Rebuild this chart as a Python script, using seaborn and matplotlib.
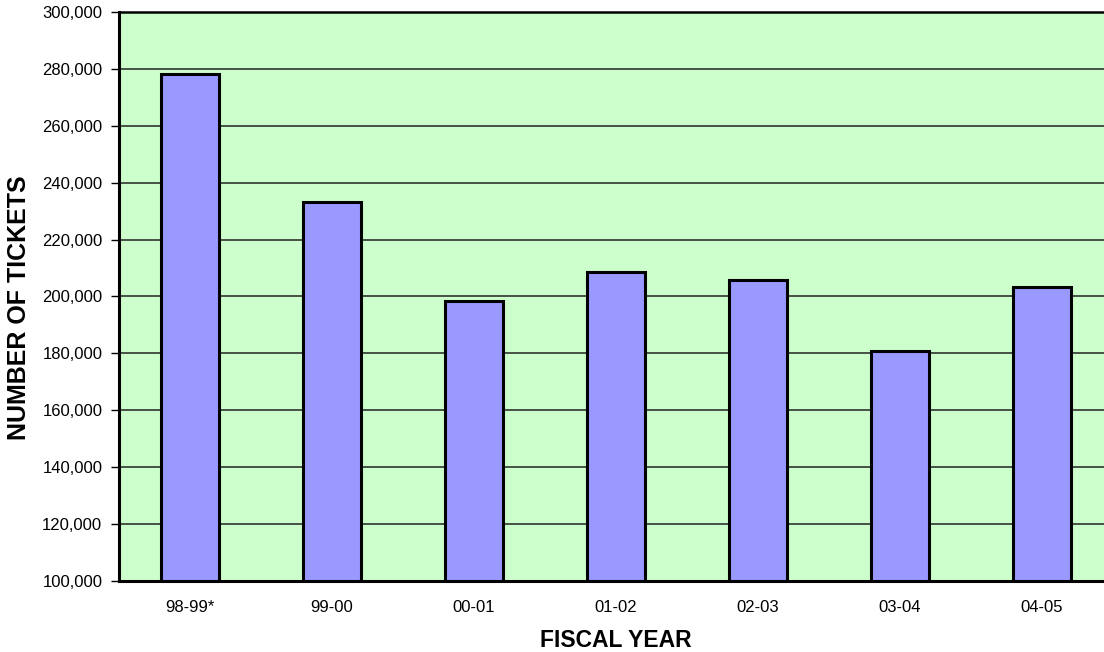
import matplotlib
matplotlib.use("Agg")
import matplotlib.pyplot as plt
import matplotlib.ticker as mticker
import numpy as np
import pandas as pd
import seaborn as sns

fiscal_years = ["98-99*", "99-00", "00-01", "01-02", "02-03", "03-04", "04-05"]
tickets = [278100, 233200, 198400, 208700, 205800, 180900, 203400]

df = pd.DataFrame({"year": fiscal_years, "tickets": tickets})

sns.set_style("white")
plt.rcParams["font.family"] = ["Liberation Sans", "DejaVu Sans"]
plt.rcParams["text.color"] = "black"
plt.rcParams["axes.labelcolor"] = "black"
plt.rcParams["xtick.color"] = "black"
plt.rcParams["ytick.color"] = "black"

fig = plt.figure(figsize=(11.04, 6.52), dpi=100)
ax = fig.add_axes([119 / 1104, 71 / 652, 994 / 1104, 569 / 652])
ax.set_facecolor("#CCFFCC")

sns.barplot(data=df, x="year", y="tickets", order=fiscal_years, color="#9999FF",
            saturation=1, edgecolor="black", linewidth=2.2, width=0.41, ax=ax)

ax.set_ylim(100000, 300000)
ax.set_xlim(-0.5, len(fiscal_years) - 0.5)
ax.yaxis.set_major_locator(mticker.MultipleLocator(20000))
ax.yaxis.set_major_formatter(mticker.StrMethodFormatter("{x:,.0f}"))
ax.set_axisbelow(True)
ax.yaxis.grid(True, color="#222222", linewidth=1.1)
ax.xaxis.grid(False)

# ticks between categories
ax.set_xticks(np.arange(-0.5, len(fiscal_years), 1), minor=True)
ax.tick_params(axis="x", which="major", length=0, pad=14, labelsize=12, labelcolor="black")
ax.tick_params(axis="x", which="minor", length=5, width=1, color="#555555", direction="out")
ax.tick_params(axis="y", which="major", length=6, width=1, color="black", direction="out",
               pad=6, labelsize=12, labelcolor="black", left=True)

for side in ["left", "bottom"]:
    ax.spines[side].set_linewidth(2.2)
    ax.spines[side].set_color("black")
ax.spines["top"].set_linewidth(1.8)
ax.spines["top"].set_color("black")
ax.spines["right"].set_visible(False)

ax.set_xlabel("FISCAL YEAR", fontsize=16.5, fontweight="bold", labelpad=10, color="black")
ax.set_ylabel("NUMBER OF TICKETS", fontsize=18, fontweight="bold", color="black")
ax.yaxis.set_label_coords(-0.0885, 0.48)

fig.savefig("out.png", dpi=100)
